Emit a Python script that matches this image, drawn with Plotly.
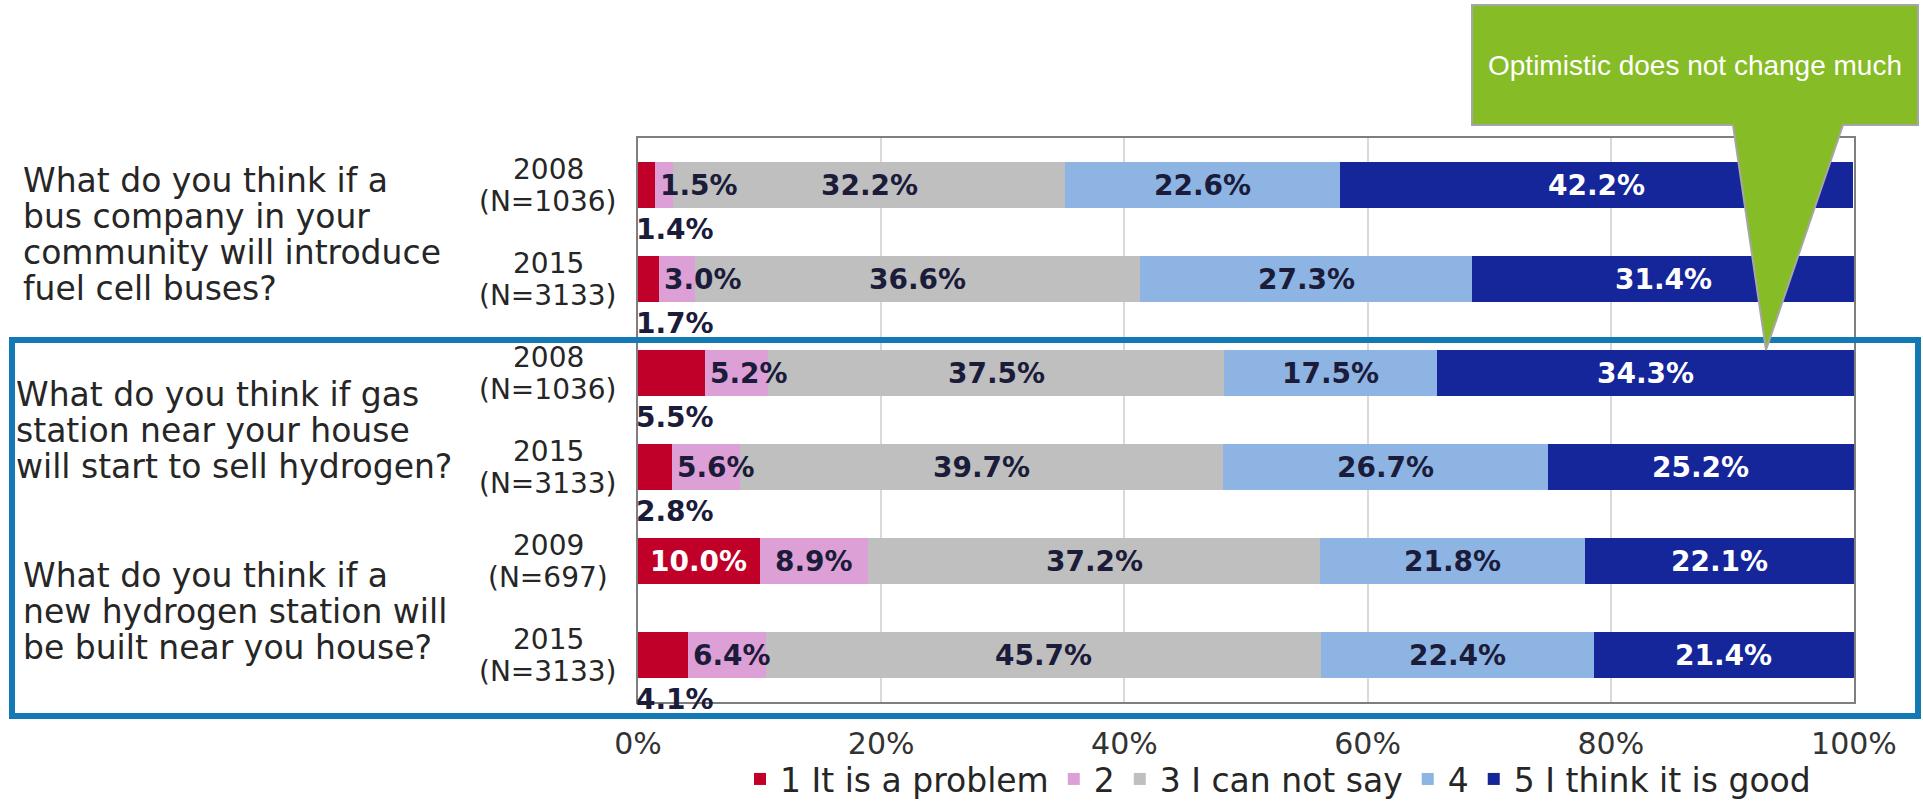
import plotly.graph_objects as go

# ---------------- data ----------------
questions = [
    "What do you think if a<br>bus company in your<br>community will introduce<br>fuel cell buses?",
    "What do you think if gas<br>station near your house<br>will start to sell hydrogen?",
    "What do you think if a<br>new hydrogen station will<br>be built near you house?",
]
years = ["2008", "2015", "2008", "2015", "2009", "2015"]
samples = ["(N=1036)", "(N=3133)", "(N=1036)", "(N=3133)", "(N=697)", "(N=3133)"]
series_names = ["1 It is a problem", "2", "3 I can not say", "4", "5 I think it is good"]
v1 = [1.4, 1.7, 5.5, 2.8, 10.0, 4.1]
v2 = [1.5, 3.0, 5.2, 5.6, 8.9, 6.4]
v3 = [32.2, 36.6, 37.5, 39.7, 37.2, 45.7]
v4 = [22.6, 27.3, 17.5, 26.7, 21.8, 22.4]
v5 = [42.2, 31.4, 34.3, 25.2, 22.1, 21.4]
callout_text = "Optimistic does not change much"
x_ticks = [0, 20, 40, 60, 80, 100]
x_tick_labels = ["0%", "20%", "40%", "60%", "80%", "100%"]

# ---------------- style ----------------
colors = ["#C00028", "#DCA0D6", "#BFBFBF", "#8DB4E3", "#15259A"]
label_colors = ["#FFFFFF", "#1B1B3A", "#1B1B3A", "#1B1B3A", "#FFFFFF"]
FONT = "DejaVu Sans"
W, H = 1923, 803
L, R, T, B = 638, 69, 138, 101
PW, PH = W - L - R, H - T - B


def px(x):
    return (x - L) / PW


def py(y):
    return (H - B - y) / PH


rows = list(range(len(years)))
series = [v1, v2, v3, v4, v5]

fig = go.Figure()
for name, vals, col in zip(series_names, series, colors):
    fig.add_trace(go.Bar(
        y=rows, x=vals, name=name, orientation="h",
        marker=dict(color=col, line=dict(width=0)),
        hoverinfo="x+name",
    ))

annotations = []
# segment labels
for r in rows:
    start = 0.0
    for k, vals in enumerate(series):
        v = vals[r]
        txt = "<b>%.1f%%</b>" % v
        if v >= 8:
            annotations.append(dict(x=start + v / 2, y=r, xref="x", yref="y", text=txt,
                                    showarrow=False, xanchor="center", yanchor="middle",
                                    font=dict(family=FONT, size=28, color=label_colors[k])))
        elif k == 0:
            annotations.append(dict(x=0, y=r + 0.47, xref="x", yref="y", text=txt,
                                    showarrow=False, xanchor="left", yanchor="middle", xshift=-4,
                                    font=dict(family=FONT, size=28, color="#1B1B3A")))
        else:
            annotations.append(dict(x=start, y=r, xref="x", yref="y", text=txt,
                                    showarrow=False, xanchor="left", yanchor="middle", xshift=3,
                                    font=dict(family=FONT, size=28, color="#1B1B3A")))
        start += v

# year / sample labels
for r in rows:
    annotations.append(dict(x=px(548), y=r, xref="paper", yref="y", text=years[r],
                            showarrow=False, xanchor="center", yanchor="middle", yshift=16,
                            font=dict(family=FONT, size=28, color="#262626")))
    annotations.append(dict(x=px(548), y=r, xref="paper", yref="y", text=samples[r],
                            showarrow=False, xanchor="center", yanchor="middle", yshift=-16,
                            font=dict(family=FONT, size=28, color="#262626")))

# question labels, one annotation per line for tight line spacing
q_pos = [(21, 0.53), (14, 2.61), (21, 4.54)]
LINE = 36
for q, (qx, qy) in zip(questions, q_pos):
    lines = q.split("<br>")
    mid = (len(lines) - 1) / 2
    for i, line in enumerate(lines):
        annotations.append(dict(x=px(qx), y=qy, xref="paper", yref="y", text=line,
                                showarrow=False, xanchor="left", yanchor="middle",
                                yshift=(mid - i) * LINE,
                                font=dict(family=FONT, size=33, color="#262626")))

# callout text
annotations.append(dict(x=px(1695), y=py(65), xref="paper", yref="paper", text=callout_text,
                        showarrow=False, xanchor="center", yanchor="middle",
                        font=dict(family="Liberation Sans, Arial", size=28, color="#FFFFFF")))

# shapes: highlight box and callout
bx0, bx1, by0, by1 = px(1472), px(1918), py(5), py(125)
tb0, tb1 = px(1733), px(1843)
tx, ty = px(1766), py(350)
callout_path = (f"M {bx0},{by0} L {bx1},{by0} L {bx1},{by1} L {tb1},{by1} "
                f"L {tx},{ty} L {tb0},{by1} L {bx0},{by1} Z")
shapes = [
    dict(type="rect", xref="paper", yref="paper", x0=px(12), x1=px(1918), y0=py(716), y1=py(340),
         line=dict(color="#1279B5", width=6), fillcolor="rgba(0,0,0,0)", layer="above"),
    dict(type="path", xref="paper", yref="paper", path=callout_path,
         fillcolor="#86BC25", line=dict(color="#A6A6A6", width=2), layer="above"),
]

fig.update_layout(
    width=W, height=H,
    margin=dict(l=L, r=R, t=T, b=B, autoexpand=False),
    barmode="stack", bargap=0.51,
    plot_bgcolor="#FFFFFF", paper_bgcolor="#FFFFFF",
    font=dict(family=FONT, size=28, color="#333333"),
    showlegend=True,
    legend=dict(orientation="h", x=px(1278), xanchor="center", y=py(807), yanchor="bottom",
                font=dict(family=FONT, size=33, color="#262626"),
                itemwidth=30, traceorder="normal", bgcolor="rgba(0,0,0,0)"),
    annotations=annotations,
    shapes=shapes,
    xaxis=dict(range=[0, 100], tickvals=x_ticks, ticktext=x_tick_labels,
               showgrid=True, gridcolor="#D9D9D9", gridwidth=1.5,
               showline=True, linecolor="#7F7F7F", linewidth=2, mirror=True,
               ticks="outside", ticklen=14, tickcolor="rgba(0,0,0,0)",
               tickfont=dict(family=FONT, size=30, color="#333333"),
               zeroline=False, fixedrange=True),
    yaxis=dict(range=[len(years) - 0.5, -0.5], showticklabels=False, showgrid=False,
               showline=True, linecolor="#7F7F7F", linewidth=2, mirror=True,
               zeroline=False, fixedrange=True),
)

fig.write_html("out.html", config={"displayModeBar": False},
               post_script="document.body.style.margin='0px';")
